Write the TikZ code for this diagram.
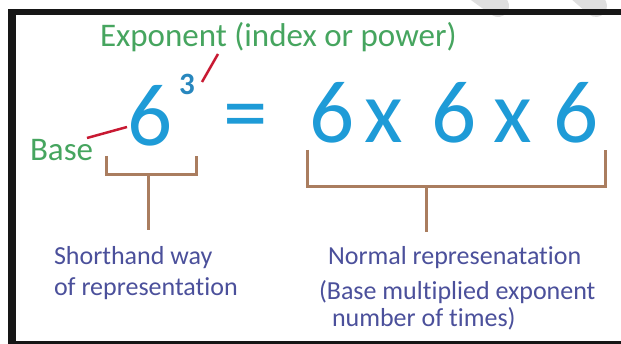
\documentclass[tikz,border=0pt]{standalone}
\usepackage{fontspec}
\setmainfont{Carlito}[Ligatures=NoCommon]
\definecolor{digblue}{RGB}{30,155,215}
\definecolor{supblue}{RGB}{40,135,190}
\definecolor{lblgreen}{RGB}{70,165,95}
\definecolor{lnred}{RGB}{200,25,50}
\definecolor{brbrown}{RGB}{170,125,95}
\definecolor{txtpurple}{RGB}{75,80,155}
\definecolor{frame}{RGB}{22,22,22}
\begin{document}
\begin{tikzpicture}[x=1pt,y=-1pt,
  every node/.style={inner sep=0pt,outer sep=0pt},
  bigdigit/.style={anchor=base,text=digblue,font=\fontsize{89}{89}\selectfont},
  greenlbl/.style={anchor=base west,text=lblgreen,font=\fontsize{33}{33}\selectfont},
  bluelbl/.style={anchor=base west,text=txtpurple,font=\fontsize{26}{26}\selectfont},
  redline/.style={draw=lnred,line width=2.5pt},
  bracket/.style={draw=brbrown,line width=3pt}]
\useasboundingbox (0,0) rectangle (621,344);
\fill[white] (0,0) rectangle (621,344);
% watermark traces
\draw[gray!25,line width=22pt,line cap=round] (462,-20) -- (498,6);
\draw[gray!25,line width=22pt,line cap=round] (566,-20) -- (596,6);
% frame
\fill[frame] (8,9) rectangle (621,15);
\fill[frame] (8,9) rectangle (16,344);
\fill[frame] (8,341) rectangle (621,344);
% texts
\node[greenlbl] (expo) at (100,47) {Exponent (index or power)};
\node[greenlbl] (base) at (30,161) {Base};
\node[bigdigit] (six0) at (150.5,146) {6};
\node[anchor=base,text=supblue,font=\fontsize{31}{31}\selectfont\bfseries] (three) at (187,95) {3};
\node[bigdigit] (eq) at (245.5,143) {=};
\node[bigdigit] (six1) at (332.5,143) {6};
\node[bigdigit] (x1) at (384,143) {x};
\node[bigdigit] (six2) at (454.5,143) {6};
\node[bigdigit] (x2) at (512.5,143) {x};
\node[bigdigit] (six3) at (576.5,143) {6};
% pointers
\coordinate (bp1) at (87,138);
\coordinate (bp2) at (127,127);
\coordinate (ep1) at (202,82);
\coordinate (ep2) at (218,54);
\draw[redline] (bp1) -- (bp2);
\draw[redline] (ep1) -- (ep2);
% brackets
\coordinate (lb1) at (106,156);
\coordinate (lb2) at (196,156);
\coordinate (lbs) at (148,175);
\coordinate (lbe) at (148,230);
\draw[bracket] (lb1) |- (lbs) -| (lb2);
\draw[bracket] (lbs) -- (lbe);
\coordinate (rb1) at (307,150);
\coordinate (rb2) at (605,150);
\coordinate (rbs) at (426,187);
\coordinate (rbe) at (426,232);
\draw[bracket] (rb1) |- (rbs) -| (rb2);
\draw[bracket] (rbs) -- (rbe);
% captions
\node[bluelbl] (sh1) at (54,265) {Shorthand way};
\node[bluelbl] (sh2) at (54,296) {of representation};
\node[bluelbl] (nr1) at (328,265) {Normal represenatation};
\node[bluelbl] (nr2) at (319,300) {(Base multiplied exponent};
\node[bluelbl] (nr3) at (332,327) {number of times)};
\end{tikzpicture}
\end{document}
